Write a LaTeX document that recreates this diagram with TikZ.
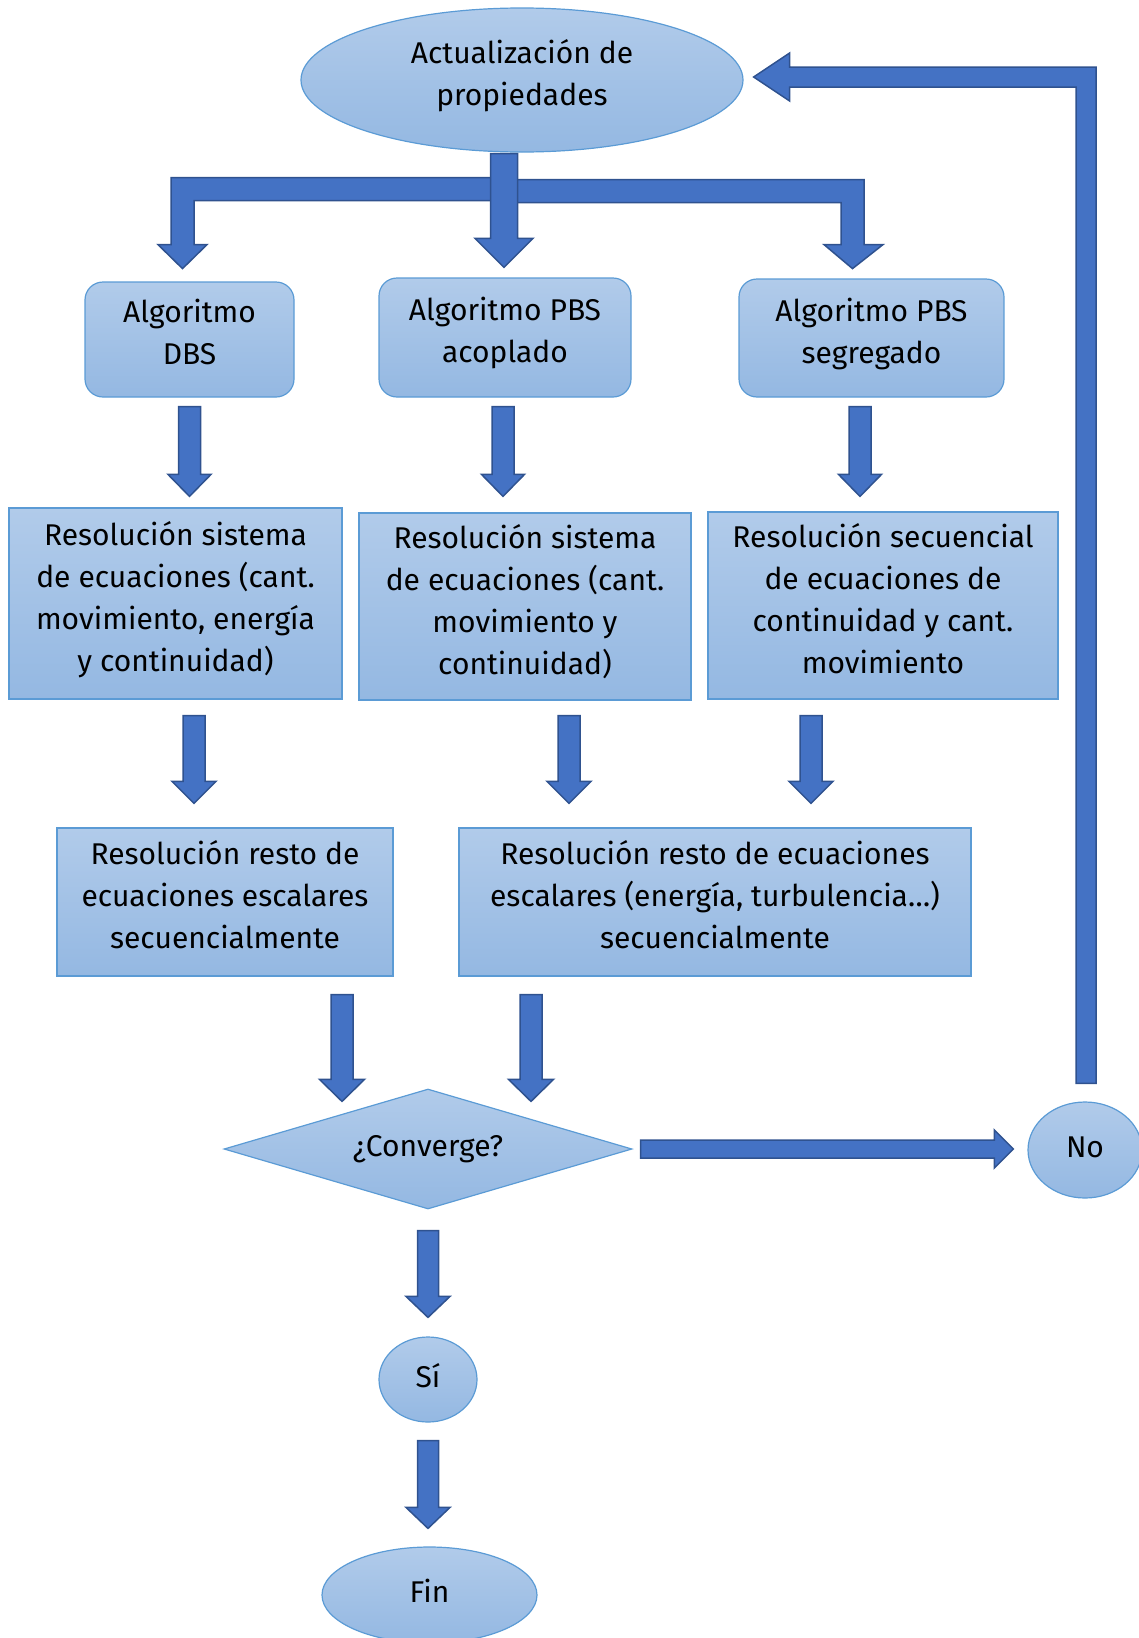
\documentclass[tikz,border=0pt]{standalone}
\usepackage{fontspec}
\setmainfont{Fira Sans}
\usetikzlibrary{shapes.geometric,calc}

\definecolor{boxtop}{RGB}{177,203,234}
\definecolor{boxbot}{RGB}{148,184,226}
\definecolor{boxline}{RGB}{91,155,213}
\definecolor{arrowfill}{RGB}{68,114,196}
\definecolor{arrowline}{RGB}{47,82,143}

\tikzset{
  shadedbox/.style={draw=boxline, line width=1.2pt, top color=boxtop, bottom color=boxbot,
    inner sep=0pt, align=center, text=black, font=\fontsize{30}{42}\selectfont,
    % fixed struts keep every text block at the same optical height
    execute at begin node={\rule{0pt}{30pt}},
    execute at end node={\rule[-15pt]{0pt}{15pt}}},
  procbox/.style={shadedbox, rectangle},
  algbox/.style={shadedbox, rectangle, rounded corners=18pt},
  oval/.style={shadedbox, ellipse},
  decision/.style={shadedbox, diamond},
  blockarrow/.style={draw=arrowline, fill=arrowfill, line width=1.5pt, line join=miter},
}

% downward block arrow: start, tip, half shaft, half head, head length
\newcommand\flowdown[5]{%
  \draw[blockarrow] let \p1=#1, \p2=#2 in
    (\x1-#3,\y1) -- (\x1+#3,\y1) -- (\x1+#3,\y2+#5) -- (\x1+#4,\y2+#5) -- (\x1,\y2)
    -- (\x1-#4,\y2+#5) -- (\x1-#3,\y2+#5) -- cycle;}
% rightward block arrow: start, tip, half shaft, half head, head length
\newcommand\flowright[5]{%
  \draw[blockarrow] let \p1=#1, \p2=#2 in
    (\x1,\y1+#3) -- (\x2-#5,\y1+#3) -- (\x2-#5,\y1+#4) -- (\x2,\y1) -- (\x2-#5,\y1-#4)
    -- (\x2-#5,\y1-#3) -- (\x1,\y1-#3) -- cycle;}

\begin{document}
\begin{tikzpicture}[x=1pt,y=-1pt]
\useasboundingbox (0,0) rectangle (1139,1638);

% nodes
\node[oval, minimum width=442pt, minimum height=144pt] (top) at (522,80) {Actualización de\\propiedades};
\node[algbox, minimum width=209pt, minimum height=115pt] (dbs) at (189.5,339.5) {Algoritmo\\DBS};
\node[algbox, minimum width=252pt, minimum height=119pt] (acop) at (505,337.5) {Algoritmo PBS\\acoplado};
\node[algbox, minimum width=265pt, minimum height=118pt] (segr) at (871.5,338) {Algoritmo PBS\\segregado};
\node[procbox, minimum width=333pt, minimum height=191pt] (res1) at (175.5,603.5)
  {Resolución sistema\\de ecuaciones (cant.\\movimiento, energía\\y continuidad)};
\node[procbox, minimum width=332pt, minimum height=187pt] (res2) at (525,606.5)
  {Resolución sistema\\de ecuaciones (cant.\\movimiento y\\continuidad)};
\node[procbox, minimum width=350pt, minimum height=187pt] (res3) at (883,605.5)
  {Resolución secuencial\\de ecuaciones de\\continuidad y cant.\\movimiento};
\node[procbox, minimum width=336pt, minimum height=148pt] (res4) at (225,902)
  {Resolución resto de\\ecuaciones escalares\\secuencialmente};
\node[procbox, minimum width=512pt, minimum height=148pt] (res5) at (715,902)
  {Resolución resto de ecuaciones\\escalares (energía, turbulencia…)\\secuencialmente};
\node[decision, minimum width=408pt, minimum height=120pt, shape aspect=3.4] (conv) at (428,1149) {¿Converge?};
\node[oval, minimum width=114pt, minimum height=96pt] (no) at (1085,1150) {No};
\node[oval, minimum width=98pt, minimum height=85pt] (si) at (428,1379.5) {Sí};
\node[oval, minimum width=215pt, minimum height=96pt] (fin) at (429.5,1595) {Fin};

% branching from the property update to the three algorithms
\draw[blockarrow] let \p1=([shift={(-18,0)}]top.south) in
  (\x1,\y1-25pt) -- (\x1-333pt,\y1-25pt) -- (\x1-333pt,\y1-92pt) -- (\x1-346pt,\y1-92pt)
  -- (\x1-321.5pt,\y1-116pt) -- (\x1-297pt,\y1-92pt) -- (\x1-310pt,\y1-92pt)
  -- (\x1-310pt,\y1-48pt) -- (\x1,\y1-48pt) -- cycle;
\draw[blockarrow] let \p1=([shift={(-18,0)}]top.south) in
  (\x1,\y1-27pt) -- (\x1+360pt,\y1-27pt) -- (\x1+360pt,\y1-92pt) -- (\x1+379pt,\y1-92pt)
  -- (\x1+348.5pt,\y1-116pt) -- (\x1+320pt,\y1-92pt) -- (\x1+337pt,\y1-92pt)
  -- (\x1+337pt,\y1-50pt) -- (\x1,\y1-50pt) -- cycle;
\flowdown{([shift={(-18,1)}]top.south)}{([shift={(-18,-10)}]acop.north)}{13.5pt}{29pt}{29pt}

% algorithm to solver
\flowdown{([shift={(0,9)}]dbs.south)}{([shift={(0,-11)}]res1.north)}{11pt}{21.5pt}{22pt}
\flowdown{([shift={(-2,9)}]acop.south)}{([shift={(0,-16)}]res2.north)}{11pt}{21.5pt}{22pt}
\flowdown{([shift={(-11.5,9)}]segr.south)}{([shift={(0,-15)}]res3.north)}{11pt}{21.5pt}{22pt}

% solver to scalar equations
\flowdown{([shift={(18.5,16)}]res1.south)}{([shift={(0,-24)}]res4.north)}{11pt}{22pt}{22pt}
\flowdown{([shift={(44,15)}]res2.south)}{([shift={(0,-24)}]res5.north)}{11pt}{22pt}{22pt}
\flowdown{([shift={(-72,16)}]res3.south)}{([shift={(0,-24)}]res5.north)}{11pt}{22pt}{22pt}

% scalar equations to convergence check
\flowdown{([shift={(117,18)}]res4.south)}{([shift={(0,13)}]conv.north)}{11pt}{22.5pt}{22pt}
\flowdown{([shift={(-184,18)}]res5.south)}{([shift={(0,13)}]conv.north)}{11pt}{22.5pt}{22pt}

% convergence outcomes
\flowdown{([shift={(0,21)}]conv.south)}{([shift={(0,-19)}]si.north)}{10.5pt}{22pt}{21pt}
\flowdown{([shift={(0,18)}]si.south)}{([shift={(0,-18)}]fin.north)}{10.5pt}{22pt}{21pt}
\flowright{([shift={(8,0)}]conv.east)}{([shift={(-14,0)}]no.west)}{9pt}{19pt}{19pt}

% loop back to the property update
\draw[blockarrow] let \p1=([shift={(1,-18)}]no.north), \p2=([shift={(10,0)}]top.east) in
  (\x1-10pt,\y1) -- (\x1+10pt,\y1) -- (\x1+10pt,\y2+13pt) -- (\x2+36pt,\y2+13pt)
  -- (\x2+36pt,\y2+27pt) -- (\x2,\y2+3pt) -- (\x2+36pt,\y2-21pt) -- (\x2+36pt,\y2-7pt)
  -- (\x1-10pt,\y2-7pt) -- cycle;
\end{tikzpicture}
\end{document}
